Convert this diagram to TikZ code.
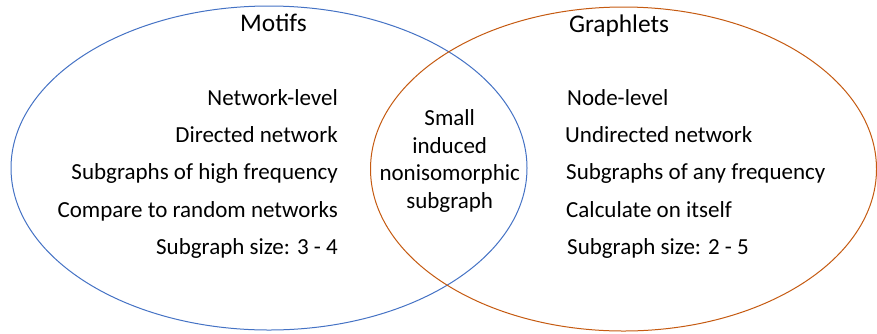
\documentclass[tikz,border=0pt]{standalone}
\usepackage{fontspec}
\setmainfont{Carlito}
\definecolor{mblue}{HTML}{4472C4}
\definecolor{morange}{HTML}{C55A11}
\begin{document}
\begin{tikzpicture}[x=1pt,y=-1pt,
  body/.style={inner sep=0pt,font=\fontsize{23}{27.5}\selectfont},
  ttl/.style={inner sep=0pt,font=\fontsize{25.4}{30}\selectfont},
  lft/.style={body,anchor=base east},
  rgt/.style={body,anchor=base west},
  mid/.style={body,anchor=base}]
\useasboundingbox (0,0) rectangle (877,333);
\draw[mblue,line width=1pt] (269,168) ellipse [x radius=258,y radius=162];
\draw[morange,line width=1pt] (623.5,169) ellipse [x radius=253,y radius=162];
\node[ttl,anchor=base] (motifs) at (273.5,31) {Motifs};
\node[ttl,anchor=base] (graphlets) at (619,32) {Graphlets};
\node[lft] (l1) at (338,105.3) {Network-level};
\node[lft] (l2) at (338,142.6) {Directed network};
\node[lft] (l3) at (338,179.9) {Subgraphs of high frequency};
\node[lft] (l4) at (338,217.2) {Compare to random networks};
\node[lft] (l5) at (338,254.3) {Subgraph size: 3 - 4};
\node[rgt] (r1) at (567,105.3) {Node-level};
\node[rgt] (r2) at (565,142.6) {Undirected network};
\node[rgt] (r3) at (566,179.9) {Subgraphs of any frequency};
\node[rgt] (r4) at (566,217.2) {Calculate on itself};
\node[rgt] (r5) at (567,254.3) {Subgraph size: 2 - 5};
\node[mid] (c1) at (449.7,125.7) {Small};
\node[mid] (c2) at (449.7,153.3) {induced};
\node[mid] (c3) at (449.7,180.8) {nonisomorphic};
\node[mid] (c4) at (449.7,208.3) {subgraph};
\end{tikzpicture}
\end{document}
